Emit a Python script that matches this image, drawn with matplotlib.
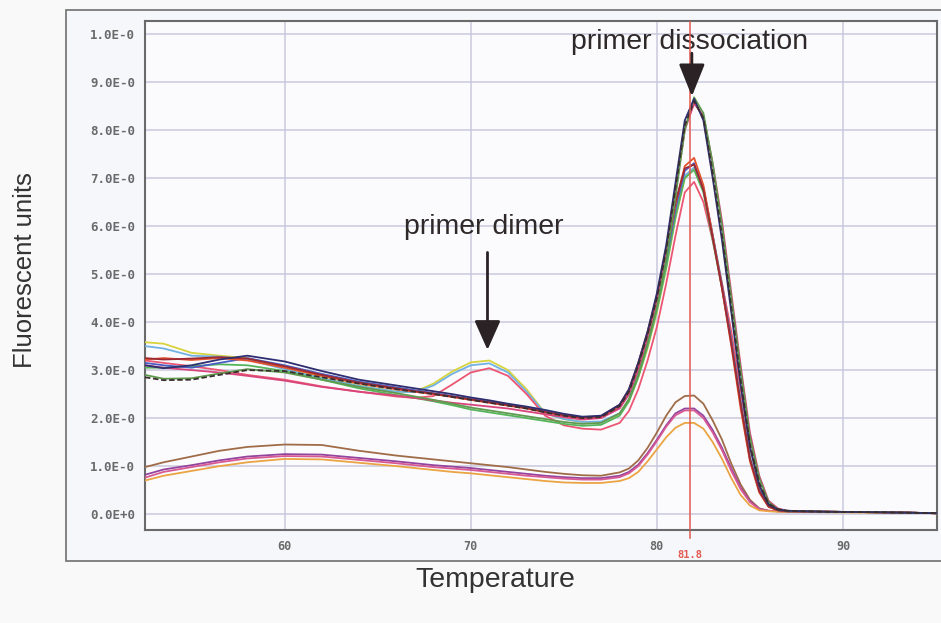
#!/usr/bin/env python3
import matplotlib
matplotlib.use('Agg')
import matplotlib.pyplot as plt
from matplotlib.patches import Rectangle

# temperature grid (deg C) used for every melt curve
temps = [52.5, 53.5, 55, 56.5, 58,
         60, 62, 64, 66,
         67, 68, 69, 70, 71, 72, 73, 74, 75, 76, 77, 78,
         78.5, 79, 79.5, 80, 80.5, 81, 81.5, 82, 82.5, 83, 83.5, 84, 84.5, 85, 85.5, 86, 86.5, 87,
         89, 92, 95]

# low-template samples
brown = [0.98, 1.08, 1.20, 1.32, 1.40,
         1.45, 1.44, 1.32, 1.22,
         1.18, 1.14, 1.10, 1.06, 1.02, 0.98, 0.93, 0.88, 0.84, 0.81, 0.80, 0.87,
         0.95, 1.12, 1.38, 1.70, 2.05, 2.33, 2.46, 2.47, 2.30, 1.95, 1.55, 1.05, 0.62, 0.30, 0.12, 0.07, 0.06, 0.05,
         0.05, 0.04, 0.02]
purple = [0.82, 0.93, 1.02, 1.12, 1.20,
          1.25, 1.24, 1.17, 1.10,
          1.06, 1.02, 0.99, 0.96, 0.92, 0.88, 0.84, 0.80, 0.77, 0.75, 0.75, 0.80,
          0.88, 1.03, 1.27, 1.55, 1.85, 2.10, 2.20, 2.20, 2.05, 1.75, 1.38, 0.95, 0.55, 0.27, 0.11, 0.07, 0.06, 0.05,
          0.05, 0.04, 0.02]
pink_low = [0.76, 0.88, 0.98, 1.08, 1.16,
            1.21, 1.20, 1.13, 1.06,
            1.02, 0.98, 0.95, 0.92, 0.88, 0.84, 0.80, 0.77, 0.74, 0.72, 0.72, 0.77,
            0.85, 1.00, 1.24, 1.52, 1.82, 2.06, 2.16, 2.16, 2.00, 1.70, 1.33, 0.90, 0.52, 0.25, 0.10, 0.07, 0.06, 0.05,
            0.05, 0.04, 0.02]
orange = [0.70, 0.80, 0.90, 1.00, 1.08,
          1.15, 1.14, 1.07, 1.00,
          0.96, 0.92, 0.88, 0.85, 0.81, 0.77, 0.73, 0.69, 0.66, 0.65, 0.65, 0.69,
          0.75, 0.88, 1.10, 1.35, 1.60, 1.80, 1.90, 1.90, 1.78, 1.50, 1.15, 0.75, 0.40, 0.18, 0.08, 0.06, 0.05, 0.05,
          0.04, 0.03, 0.02]

# samples with primer dimer bump
yellow = [3.58, 3.55, 3.36, 3.30, 3.25,
          3.05, 2.85, 2.68, 2.55,
          2.55, 2.72, 2.97, 3.16, 3.20, 3.00, 2.60, 2.10, 1.98, 1.92, 1.92, 2.08,
          2.35, 2.85, 3.45, 4.20, 5.10, 6.15, 7.00, 7.20, 6.75, 5.80, 4.80, 3.70, 2.40, 1.20, 0.50, 0.17, 0.08, 0.06,
          0.05, 0.04, 0.02]
light_blue = [3.50, 3.45, 3.30, 3.28, 3.22,
              3.02, 2.83, 2.67, 2.55,
              2.54, 2.68, 2.92, 3.10, 3.14, 2.95, 2.55, 2.10, 1.98, 1.92, 1.93, 2.10,
              2.38, 2.88, 3.50, 4.25, 5.15, 6.20, 7.05, 7.22, 6.78, 5.82, 4.80, 3.70, 2.40, 1.20, 0.50, 0.17, 0.08, 0.06,
              0.05, 0.04, 0.02]
pink = [3.20, 3.15, 3.08, 3.00, 2.90,
        2.80, 2.66, 2.55, 2.45,
        2.42, 2.46, 2.70, 2.95, 3.04, 2.88, 2.50, 2.05, 1.85, 1.78, 1.76, 1.90,
        2.15, 2.60, 3.20, 3.90, 4.80, 5.80, 6.70, 6.92, 6.50, 5.70, 4.80, 3.80, 2.60, 1.40, 0.60, 0.20, 0.09, 0.06,
        0.05, 0.04, 0.02]

# main product samples
orange_red = [3.22, 3.25, 3.21, 3.25, 3.20,
              3.05, 2.88, 2.72, 2.60,
              2.55, 2.50, 2.44, 2.38, 2.32, 2.26, 2.20, 2.12, 2.05, 2.00, 2.02, 2.25,
              2.55, 3.10, 3.75, 4.50, 5.40, 6.45, 7.25, 7.42, 6.85, 5.80, 4.70, 3.50, 2.20, 1.10, 0.45, 0.15, 0.08, 0.06,
              0.05, 0.04, 0.02]
blue = [3.15, 3.10, 3.05, 3.15, 3.25,
        3.10, 2.92, 2.76, 2.64,
        2.58, 2.52, 2.46, 2.40, 2.34, 2.28, 2.22, 2.14, 2.06, 2.00, 2.02, 2.22,
        2.50, 3.00, 3.65, 4.40, 5.30, 6.35, 7.15, 7.31, 6.80, 5.80, 4.75, 3.60, 2.30, 1.15, 0.50, 0.17, 0.08, 0.06,
        0.05, 0.04, 0.02]
dark_red = [3.25, 3.22, 3.24, 3.27, 3.24,
            3.08, 2.90, 2.74, 2.62,
            2.56, 2.51, 2.45, 2.39, 2.33, 2.27, 2.21, 2.13, 2.06, 2.01, 2.04, 2.28,
            2.60, 3.15, 3.80, 4.55, 5.50, 6.50, 7.20, 7.28, 6.75, 5.75, 4.70, 3.55, 2.30, 1.15, 0.48, 0.16, 0.08, 0.06,
            0.05, 0.04, 0.02]
green = [3.05, 3.05, 3.08, 3.12, 3.10,
         2.98, 2.80, 2.62, 2.48,
         2.42, 2.35, 2.27, 2.18, 2.12, 2.06, 2.00, 1.94, 1.88, 1.84, 1.86, 2.05,
         2.35, 2.85, 3.50, 4.25, 5.15, 6.20, 7.00, 7.17, 6.70, 5.70, 4.70, 3.60, 2.30, 1.15, 0.50, 0.17, 0.08, 0.06,
         0.05, 0.04, 0.02]
magenta = [3.10, 3.05, 3.00, 2.95, 2.88,
           2.78, 2.65, 2.55, 2.47,
           2.42, 2.37, 2.32, 2.28, 2.24, 2.20, 2.14, 2.08, 2.02, 1.97, 2.00, 2.20,
           2.50, 3.00, 3.65, 4.40, 5.40, 6.70, 8.00, 8.55, 8.30, 7.30, 6.10, 4.60, 3.10, 1.70, 0.80, 0.28, 0.12, 0.07,
           0.05, 0.04, 0.02]
dark_green = [2.90, 2.82, 2.83, 2.93, 3.02,
              2.95, 2.80, 2.65, 2.52,
              2.45, 2.38, 2.30, 2.22, 2.16, 2.10, 2.04, 1.98, 1.92, 1.88, 1.90, 2.10,
              2.40, 2.90, 3.55, 4.30, 5.30, 6.60, 8.00, 8.68, 8.35, 7.30, 6.00, 4.50, 3.00, 1.60, 0.75, 0.25, 0.10, 0.07,
              0.05, 0.04, 0.02]
dark_dash = [2.85, 2.79, 2.80, 2.90, 3.00,
             2.98, 2.85, 2.72, 2.60,
             2.55, 2.50, 2.44, 2.38, 2.32, 2.26, 2.20, 2.12, 2.05, 2.00, 2.02, 2.25,
             2.55, 3.10, 3.75, 4.50, 5.50, 6.80, 8.10, 8.60, 8.25, 7.10, 5.80, 4.30, 2.80, 1.45, 0.65, 0.22, 0.10, 0.07,
             0.05, 0.04, 0.02]
navy = [3.10, 3.04, 3.10, 3.22, 3.30,
        3.18, 2.98, 2.80, 2.68,
        2.62, 2.56, 2.50, 2.43, 2.37, 2.30, 2.24, 2.17, 2.09, 2.03, 2.05, 2.28,
        2.60, 3.15, 3.80, 4.60, 5.60, 6.90, 8.20, 8.65, 8.20, 7.00, 5.70, 4.20, 2.70, 1.40, 0.60, 0.20, 0.10, 0.07,
        0.05, 0.04, 0.02]

ytick_vals = [0, 1, 2, 3, 4, 5, 6, 7, 8, 9, 10]
ytick_labels = ['0.0E+0', '1.0E-0', '2.0E-0', '3.0E-0', '4.0E-0', '5.0E-0',
                '6.0E-0', '7.0E-0', '8.0E-0', '9.0E-0', '1.0E-0']
xtick_vals = [60, 70, 80, 90]
tm_marker = 81.8

curves = [
    (brown, '#a06c48', '-'), (purple, '#94449c', '-'), (pink_low, '#d85a94', '-'), (orange, '#eba442', '-'),
    (yellow, '#d8d33c', '-'), (light_blue, '#72b2e2', '-'), (pink, '#ec5673', '-'),
    (green, '#56b55a', '-'), (blue, '#4b5ec4', '-'), (orange_red, '#e5532d', '-'), (dark_red, '#9c2a35', '-'),
    (magenta, '#d8457a', '-'), (dark_green, '#5f9a4f', '-'), (navy, '#2e2e70', '-'),
    (dark_dash, '#3a2e2e', (0, (3, 1.5))),
]

fig = plt.figure(figsize=(9.41, 6.23), dpi=100)
fig.patch.set_facecolor('#f9f9fa')
frame = Rectangle((66 / 941, 1 - 561 / 623), (950 - 66) / 941, (561 - 10) / 623,
                  transform=fig.transFigure, facecolor='#f6f7fb', edgecolor='#7a7a7a', lw=1.3, zorder=-5)
fig.patches.append(frame)

ax = fig.add_axes([145 / 941, 1 - 530 / 623, (937 - 145) / 941, (530 - 21) / 623])
ax.set_zorder(2)
ax.set_facecolor('#fbfbfe')
for yv in ytick_vals:
    ax.axhline(yv, color='#c9c9de', lw=1.1, zorder=1)
for xv in xtick_vals:
    ax.axvline(xv, color='#c9c9de', lw=1.1, zorder=1)

for vals, col, ls in curves:
    ax.plot(temps, vals, color=col, lw=1.3, linestyle=ls, zorder=3)

ax.axvline(tm_marker, color='#e25a50', lw=1.1, zorder=4)
ax.plot([tm_marker, tm_marker], [-0.33, -0.5], color='#e25a50', lw=1.1, clip_on=False)

ax.set_xlim(52.5, 95.05)
ax.set_ylim(-0.33, 10.27)
ax.set_yticks(ytick_vals)
ax.set_yticklabels(ytick_labels, family='DejaVu Sans Mono', fontweight='bold', fontsize=9, color='#6a6a6a')
ax.set_xticks(xtick_vals)
ax.set_xticklabels([str(v) for v in xtick_vals], family='DejaVu Sans Mono', fontweight='bold', fontsize=8.5, color='#6a6a6a')
ax.tick_params(length=0, pad=7)
for sp in ax.spines.values():
    sp.set_color('#6a6a6a')
    sp.set_linewidth(1.5)

ax.text(tm_marker, -0.85, '81.8', ha='center', va='center', color='#e25a50',
        family='DejaVu Sans Mono', fontweight='bold', fontsize=7.5)

ax.annotate('', xy=(70.9, 3.42), xytext=(70.9, 5.45),
            arrowprops=dict(arrowstyle='-|>,head_length=0.9,head_width=0.4', lw=2, color='#2a2224',
                            mutation_scale=20, shrinkA=0, shrinkB=0), zorder=6)
ax.annotate('', xy=(81.88, 8.7), xytext=(81.88, 9.6),
            arrowprops=dict(arrowstyle='-|>,head_length=1.0,head_width=0.4', lw=2, color='#2a2224',
                            mutation_scale=20, shrinkA=0, shrinkB=0), zorder=6)

ax.text(70.7, 5.98, 'primer dimer', ha='center', va='center', fontsize=20.5,
        family='Liberation Sans', color='#2e2829')
ax.text(81.75, 9.83, 'primer dissociation', ha='center', va='center', fontsize=20.5,
        family='Liberation Sans', color='#2e2829')

fig.text(25 / 941, 1 - 270 / 623, 'Fluorescent units', rotation=90, ha='center', va='center',
         fontsize=18.5, family='Liberation Sans', color='#333')
fig.text(495 / 941, 1 - 580 / 623, 'Temperature', ha='center', va='center',
         fontsize=20.5, family='Liberation Sans', color='#333')

fig.savefig('out.png', dpi=100, facecolor=fig.get_facecolor())
